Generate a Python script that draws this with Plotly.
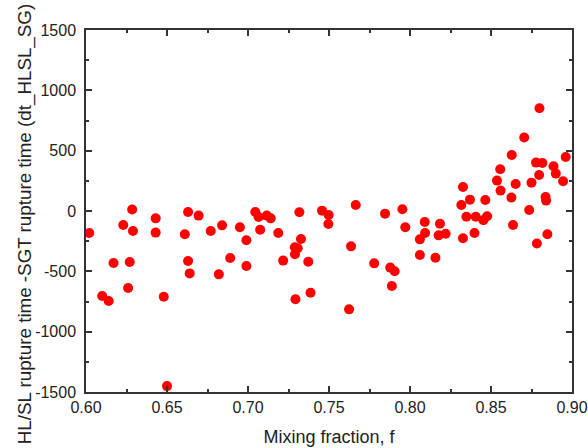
import plotly.graph_objects as go

mixing_fraction = [
    0.602, 0.610, 0.614, 0.617, 0.623, 0.626, 0.6285, 0.627, 0.629, 0.643,
    0.643, 0.648, 0.650, 0.661, 0.663, 0.663, 0.664, 0.6695, 0.677, 0.682,
    0.684, 0.689, 0.695, 0.699, 0.699, 0.7045, 0.7065, 0.7075, 0.7116, 0.714,
    0.7187, 0.7217, 0.7293, 0.7289, 0.7307, 0.729, 0.7317, 0.7327, 0.7372, 0.7386,
    0.7457, 0.7498, 0.7496, 0.7624, 0.7636, 0.7665, 0.7779, 0.7846, 0.7878, 0.7905,
    0.7888, 0.7953, 0.7971, 0.8061, 0.8091, 0.8093, 0.8061, 0.8157, 0.8185, 0.8177,
    0.822, 0.8327, 0.8317, 0.837, 0.8348, 0.8327, 0.8406, 0.8398, 0.8465, 0.8476,
    0.8453, 0.8557, 0.8537, 0.8559, 0.8628, 0.8626, 0.8652, 0.8636, 0.8705, 0.8736,
    0.875, 0.8778, 0.8797, 0.8799, 0.8783, 0.8817, 0.8837, 0.884, 0.8848, 0.8886,
    0.89, 0.8945, 0.8961,
]
dt_hlsl_sg = [
    -182, -705, -746, -431, -116, -638, 12, -423, -166, -61,
    -179, -710, -1451, -193, -8, -415, -517, -38, -166, -525,
    -119, -390, -135, -243, -456, -8, -50, -155, -38, -61,
    -182, -411, -732, -301, -309, -359, -11, -232, -420, -677,
    3, -33, -108, -815, -293, 50, -434, -22, -469, -500,
    -622, 14, -135, -235, -91, -182, -365, -387, -105, -202,
    -188, 199, 50, 94, -47, -226, -47, -182, 91, -44,
    -77, 346, 252, 169, 464, 111, 224, -116, 609, 8,
    235, 401, 299, 852, -270, 398, 116, 86, -193, 371,
    310, 246, 448,
]

x_tick_values = [0.60, 0.65, 0.70, 0.75, 0.80, 0.85, 0.90]
x_tick_labels = ["0.60", "0.65", "0.70", "0.75", "0.80", "0.85", "0.90"]
y_tick_values = [-1500, -1000, -500, 0, 500, 1000, 1500]
y_tick_labels = ["-1500", "-1000", "-500", "0", "500", "1000", "1500"]

x_title = "Mixing fraction, f"
y_title = "HL/SL rupture time -SGT rupture time (dt_HLSL_SG)"

font_family = "Liberation Sans, Arial, sans-serif"
axis_color = "#333333"
text_color = "#222222"

fig = go.Figure()
fig.add_trace(go.Scatter(
    x=mixing_fraction, y=dt_hlsl_sg, mode="markers",
    marker=dict(color="#ff0000", size=10, line=dict(width=0)),
    showlegend=False,
))

common_axis = dict(
    showline=True, linecolor=axis_color, linewidth=1.5, mirror="allticks",
    ticks="inside", ticklen=6, tickwidth=1.5, tickcolor=axis_color,
    showgrid=False, zeroline=False, tickmode="array", automargin=False,
    ticklabeloverflow="allow",
    tickfont=dict(family=font_family, size=16, color=text_color),
)

fig.update_xaxes(
    range=[0.6, 0.9], tickvals=x_tick_values, ticktext=x_tick_labels,
    minor=dict(dtick=0.025, tick0=0.6, ticks="inside", ticklen=3, tickwidth=1.5,
               tickcolor=axis_color, showgrid=False),
    title=dict(text=x_title, font=dict(family=font_family, size=18, color=text_color), standoff=15),
    **common_axis,
)
fig.update_yaxes(
    range=[-1500, 1500], tickvals=y_tick_values, ticktext=y_tick_labels,
    ticklabelstandoff=5,
    minor=dict(dtick=250, tick0=0, ticks="inside", ticklen=3, tickwidth=1.5,
               tickcolor=axis_color, showgrid=False),
    **common_axis,
)

fig.add_annotation(
    text=y_title, textangle=-90, showarrow=False,
    xref="paper", yref="paper", x=-0.125, y=0.464,
    xanchor="center", yanchor="middle",
    font=dict(family=font_family, size=18.8, color=text_color),
)

fig.update_layout(
    width=588, height=448,
    margin=dict(l=86, r=16, t=30, b=56),
    paper_bgcolor="white", plot_bgcolor="white",
)

fig.write_html(
    "out.html",
    config={"displayModeBar": False},
    post_script="document.body.style.margin='0';",
)
